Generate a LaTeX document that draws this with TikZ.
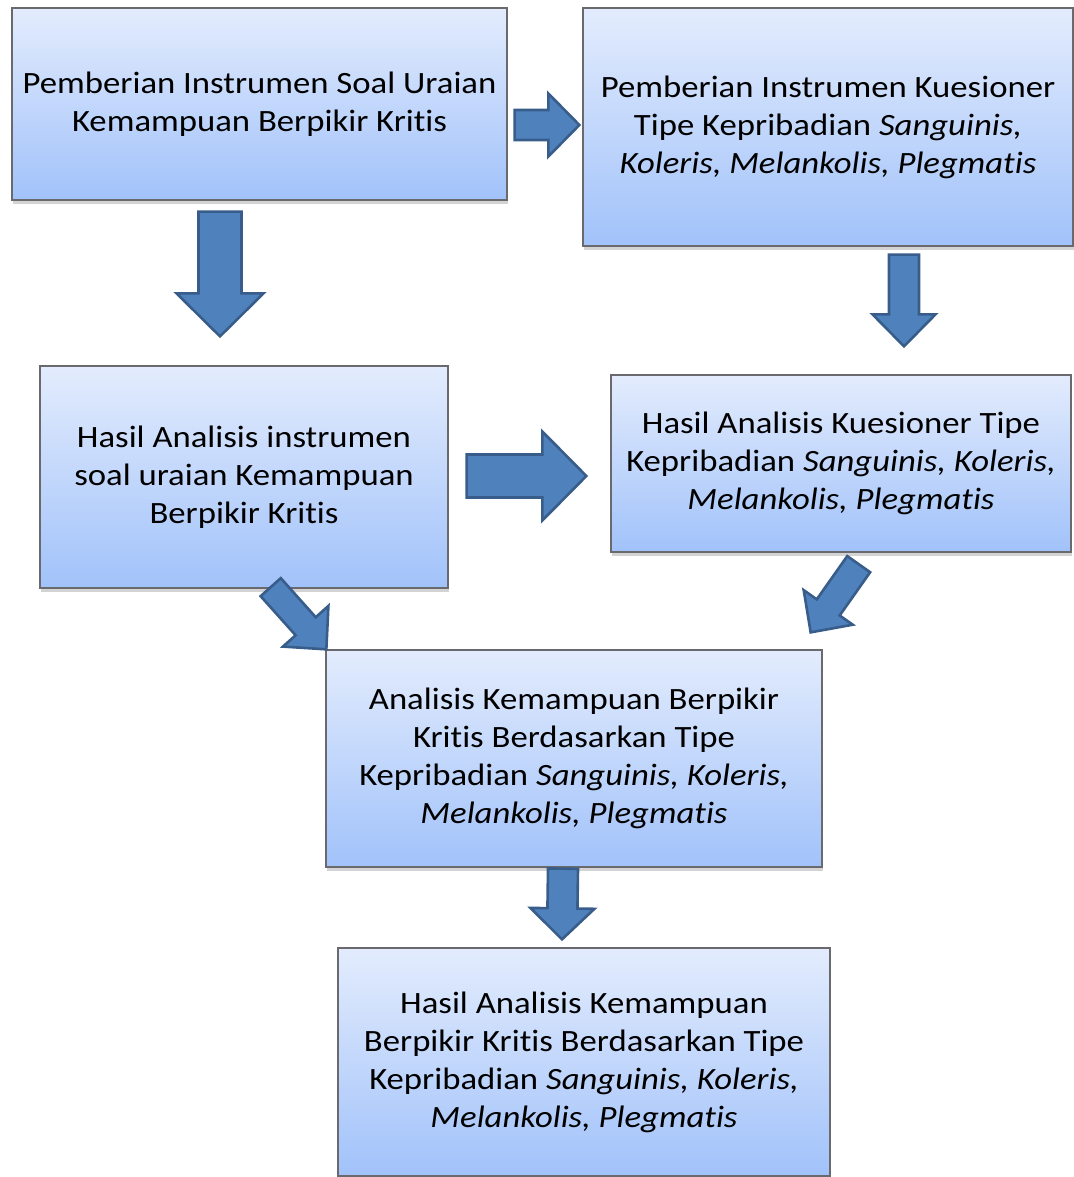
\documentclass[tikz,border=0pt]{standalone}
\usepackage{fontspec}
\setmainfont{Carlito}[FakeStretch=1.12, RawFeature={-liga;-clig;-dlig;-calt}]
\usetikzlibrary{calc,shadows}

\definecolor{boxtop}{RGB}{227,236,253}
\definecolor{boxbot}{RGB}{161,194,250}
\definecolor{boxline}{RGB}{105,105,110}
\definecolor{arrfill}{RGB}{79,129,189}
\definecolor{arrline}{RGB}{56,93,138}

\tikzset{
  stepbox/.style={rectangle, draw=boxline, line width=1.3pt,
    top color=boxtop, bottom color=boxbot,
    drop shadow={shadow xshift=1pt, shadow yshift=-4pt, opacity=0.35},
    align=center, inner sep=0pt,
    font=\fontsize{31}{38}\selectfont},
  barrow/.style={fill=arrfill, draw=arrline, line width=2.6pt, line join=miter}
}

% block arrow: from, to, shaft half width, head half width, head length
\newcommand{\blockarr}[5]{%
  \path ($(#2)!#5!(#1)$) coordinate (hb);
  \filldraw[barrow] ($(#1)!#3!90:(#2)$) -- ($(hb)!#3!-90:(#1)$) -- ($(hb)!#4!-90:(#1)$) -- (#2)
    -- ($(hb)!#4!90:(#1)$) -- ($(hb)!#3!90:(#1)$) -- ($(#1)!#3!-90:(#2)$) -- cycle;
}

\begin{document}
\begin{tikzpicture}[x=1pt,y=-1pt]
	\useasboundingbox (0,0) rectangle (1073,1177);

	% boxes
	\node[stepbox, minimum width=495pt, minimum height=192pt] (b1) at (259.5,104)
	  {\raisebox{3pt}{Pemberian Instrumen Soal Uraian}\\\raisebox{3pt}{Kemampuan Berpikir Kritis}};
	\node[stepbox, minimum width=490pt, minimum height=238pt] (b2) at (828,127)
	  {Pemberian Instrumen Kuesioner\\Tipe Kepribadian \textit{Sanguinis,}\\\textit{Koleris, Melankolis, Plegmatis}};
	\node[stepbox, minimum width=408pt, minimum height=222pt] (b3) at (244,477)
	  {Hasil Analisis instrumen\\soal uraian Kemampuan\\Berpikir Kritis};
	\node[stepbox, minimum width=460pt, minimum height=177pt] (b4) at (841,463.5)
	  {Hasil Analisis Kuesioner Tipe\\Kepribadian \textit{Sanguinis, Koleris,}\\\textit{Melankolis, Plegmatis}};
	\node[stepbox, minimum width=496pt, minimum height=217pt] (b5) at (574,758.5)
	  {Analisis Kemampuan Berpikir\\Kritis Berdasarkan Tipe\\Kepribadian \textit{Sanguinis, Koleris,}\\\textit{Melankolis, Plegmatis}};
	\node[stepbox, minimum width=492pt, minimum height=228pt] (b6) at (584,1062)
	  {Hasil Analisis Kemampuan\\Berpikir Kritis Berdasarkan Tipe\\Kepribadian \textit{Sanguinis, Koleris,}\\\textit{Melankolis, Plegmatis}};

	% arrow ends
	\coordinate (a1s) at ([shift={(7,21)}]b1.east);
	\coordinate (a1e) at ([shift={(-3,-2)}]b2.west);
	\coordinate (a2s) at ([shift={(-39.5,11)}]b1.south);
	\coordinate (a2e) at ([shift={(-24,-29)}]b3.north);
	\coordinate (a3s) at ([shift={(18,-1)}]b3.east);
	\coordinate (a3e) at ([shift={(-24,12.5)}]b4.west);
	\coordinate (a4s) at ([shift={(26.7,-1.5)}]b3.south);
	\coordinate (a4e) at ([shift={(1,0)}]b5.north west);
	\coordinate (a5s) at ([shift={(17.7,11.5)}]b4.south);
	\coordinate (a5e) at ([shift={(-12,-17)}]b5.north east);
	\coordinate (a6s) at ([shift={(76,8)}]b2.south);
	\coordinate (a6e) at ([shift={(63,-28)}]b4.north);
	\coordinate (a7s) at ([shift={(-11,1)}]b5.south);
	\coordinate (a7e) at ([shift={(-22,-8)}]b6.north);

	% block arrows
	\blockarr{a1s}{a1e}{15pt}{31.5pt}{31pt}
	\blockarr{a2s}{a2e}{21.5pt}{43.5pt}{43pt}
	\blockarr{a3s}{a3e}{21.5pt}{44.5pt}{44pt}
	\blockarr{a4s}{a4e}{13.5pt}{30.5pt}{31pt}
	\blockarr{a5s}{a5e}{14pt}{30pt}{30.5pt}
	\blockarr{a6s}{a6e}{15pt}{31.5pt}{32pt}
	\blockarr{a7s}{a7e}{15pt}{32pt}{31pt}
\end{tikzpicture}
\end{document}
